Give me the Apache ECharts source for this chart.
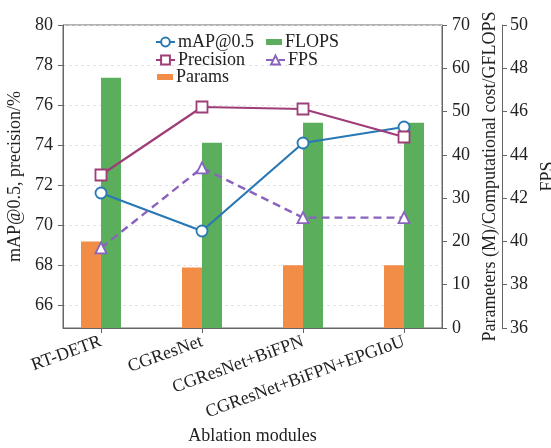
<!DOCTYPE html>
<html>
<head>
<meta charset="utf-8">
<script src="https://cdn.jsdelivr.net/npm/echarts@6/dist/echarts.min.js"></script>
<style>
    html, body { margin: 0; padding: 0; background: #fff; }
    .chart { width: 551px; height: 448px; }
</style>
</head>
<body>
<div class="chart"></div>
<script>
// 消融实验数据
var modules = ['RT-DETR', 'CGResNet', 'CGResNet+BiFPN', 'CGResNet+BiFPN+EPGIoU'];
var mapValues = [71.6, 69.7, 74.1, 74.9];
var precisionValues = [72.5, 75.9, 75.8, 74.4];
var fpsValues = [39.7, 43.4, 41.1, 41.1];
var paramsValues = [20.0, 14.0, 14.5, 14.5];
var flopsValues = [57.8, 42.8, 47.4, 47.4];
var leftTicks = [66, 68, 70, 72, 74, 76, 78, 80];

(function () {
    var myChart = echarts.init(document.querySelector('.chart'));
    var font = 'Liberation Serif';
    var axisGray = '#666';
    var txt = { fontFamily: font, fontSize: 18, color: '#222' };

    function pairs(values) {
        return values.map(function (v, i) { return [i, v]; });
    }

    // 每行图例单独定位
    function legendRow(name, left, top, isBar) {
        return {
            data: [isBar ? { name: name, icon: 'rect' } : name],
            left: left, top: top,
            itemWidth: isBar ? 16 : 19,
            itemHeight: isBar ? 6 : 11,
            itemGap: 0,
            padding: 0,
            textStyle: { fontFamily: font, fontSize: 18, color: '#222', padding: [0, 0, 0, -2] }
        };
    }

    var option = {
        animation: false,
        textStyle: { fontFamily: font, color: '#222' },
        grid: {
            left: 63, right: 109, top: 25, bottom: 120,
            outerBoundsMode: 'none',
            show: true, borderColor: axisGray, borderWidth: 1
        },
        legend: [
            legendRow('mAP@0.5', 155, 33, false),
            legendRow('Precision', 155, 51, false),
            legendRow('Params', 157, 68, true),
            legendRow('FLOPS', 266, 33, true),
            legendRow('FPS', 265, 51, false)
        ],
        xAxis: {
            type: 'value',
            min: -0.376,
            max: 3.376,
            name: 'Ablation modules',
            nameLocation: 'middle',
            nameGap: 95,
            nameTextStyle: txt,
            axisLine: { onZero: false, lineStyle: { color: axisGray } },
            axisTick: { customValues: [0, 1, 2, 3], length: 5, lineStyle: { color: axisGray } },
            axisLabel: {
                customValues: [0, 1, 2, 3],
                formatter: function (v) { return modules[Math.round(v)]; },
                rotate: 20, margin: 13,
                fontFamily: font, fontSize: 18, color: '#222'
            },
            splitLine: { show: false }
        },
        yAxis: [
            {
                type: 'value',
                min: 64.85,
                max: 80,
                position: 'left',
                name: 'mAP@0.5, precision/%',
                nameLocation: 'middle',
                nameGap: 32,
                nameTextStyle: txt,
                axisLine: { show: true, onZero: false, lineStyle: { color: axisGray } },
                axisTick: { show: true, customValues: leftTicks, length: 5, lineStyle: { color: axisGray } },
                axisLabel: { customValues: leftTicks, fontFamily: font, fontSize: 18, color: '#222', margin: 10 },
                splitLine: { show: true, lineStyle: { color: '#ddd', type: [3, 3], width: 0.8 } }
            },
            {
                type: 'value',
                min: 0,
                max: 70,
                interval: 10,
                position: 'right',
                name: 'Parameters (M)/Computational cost/GFLOPS',
                nameLocation: 'middle',
                nameGap: 35,
                nameTextStyle: txt,
                axisLine: { show: true, onZero: false, lineStyle: { color: axisGray } },
                axisTick: { show: true, length: 5, lineStyle: { color: axisGray } },
                axisLabel: { fontFamily: font, fontSize: 18, color: '#222', margin: 10 },
                splitLine: { show: false }
            },
            {
                type: 'value',
                min: 36,
                max: 50,
                interval: 2,
                position: 'right',
                offset: 60,
                name: 'FPS',
                nameLocation: 'middle',
                nameGap: 33,
                nameTextStyle: txt,
                axisLine: { show: true, onZero: false, lineStyle: { color: axisGray } },
                axisTick: { show: true, length: 5, lineStyle: { color: axisGray } },
                axisLabel: { fontFamily: font, fontSize: 18, color: '#222', margin: 8 },
                splitLine: { show: false }
            }
        ],
        series: [
            {
                name: 'Params',
                type: 'bar',
                yAxisIndex: 1,
                barWidth: 20,
                barGap: '0%',
                z: 1,
                itemStyle: { color: '#f28d48' },
                data: pairs(paramsValues)
            },
            {
                name: 'FLOPS',
                type: 'bar',
                yAxisIndex: 1,
                barWidth: 20,
                barGap: '0%',
                z: 1,
                itemStyle: { color: '#5aae5c' },
                data: pairs(flopsValues)
            },
            {
                name: 'mAP@0.5',
                type: 'line',
                yAxisIndex: 0,
                symbol: 'circle',
                symbolSize: 11,
                z: 5,
                lineStyle: { color: '#2878b5', width: 2.2 },
                itemStyle: { color: '#fff', borderColor: '#2878b5', borderWidth: 1.8 },
                data: pairs(mapValues)
            },
            {
                name: 'Precision',
                type: 'line',
                yAxisIndex: 0,
                symbol: 'rect',
                symbolSize: 11,
                z: 5,
                lineStyle: { color: '#9e3d77', width: 2.2 },
                itemStyle: { color: '#fff', borderColor: '#9e3d77', borderWidth: 1.8 },
                data: pairs(precisionValues)
            },
            {
                name: 'FPS',
                type: 'line',
                yAxisIndex: 2,
                symbol: 'triangle',
                symbolSize: 11,
                z: 5,
                lineStyle: { color: '#8a63bf', width: 2.4, type: [8, 5] },
                itemStyle: { color: '#fff', borderColor: '#8a63bf', borderWidth: 1.8 },
                data: pairs(fpsValues)
            }
        ]
    };
    myChart.setOption(option);
    window.addEventListener('resize', function () {
        myChart.resize();
    })
})();
</script>
</body>
</html>
